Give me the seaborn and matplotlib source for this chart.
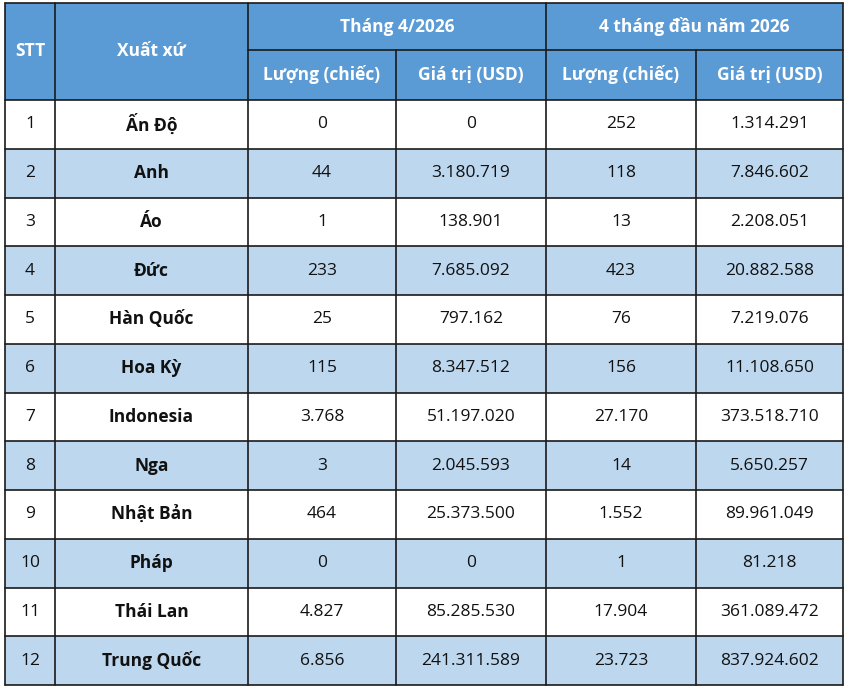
import matplotlib
matplotlib.use("Agg")
import matplotlib.pyplot as plt
import seaborn as sns
from matplotlib.patches import Rectangle

sns.set_theme(style="white")
plt.rcParams['font.family'] = ['Open Sans', 'DejaVu Sans']

stt = [str(i) for i in range(1, 13)]
countries = ["Ấn Độ", "Anh", "Áo", "Đức", "Hàn Quốc", "Hoa Kỳ", "Indonesia", "Nga",
             "Nhật Bản", "Pháp", "Thái Lan", "Trung Quốc"]
qty_apr = ["0", "44", "1", "233", "25", "115", "3.768", "3", "464", "0", "4.827", "6.856"]
val_apr = ["0", "3.180.719", "138.901", "7.685.092", "797.162", "8.347.512", "51.197.020",
           "2.045.593", "25.373.500", "0", "85.285.530", "241.311.589"]
qty_4m = ["252", "118", "13", "423", "76", "156", "27.170", "14", "1.552", "1", "17.904", "23.723"]
val_4m = ["1.314.291", "7.846.602", "2.208.051", "20.882.588", "7.219.076", "11.108.650",
          "373.518.710", "5.650.257", "89.961.049", "81.218", "361.089.472", "837.924.602"]
group_headers = ["Tháng 4/2026", "4 tháng đầu năm 2026"]
sub_headers = ["Lượng (chiếc)", "Giá trị (USD)", "Lượng (chiếc)", "Giá trị (USD)"]

W, H = 846, 689
fig = plt.figure(figsize=(W/100, H/100), dpi=100)
ax = fig.add_axes([0, 0, 1, 1])
ax.set_xlim(0, W); ax.set_ylim(H, 0); ax.axis('off')

xs = [5, 55, 248, 396, 546, 696, 843]
y0, y1, y2 = 3, 50, 100
ybot = 685
rh = (ybot - y2) / 12
hdr = "#5B9BD5"; alt = "#BDD7EE"; line = "#1a1a1a"
fs = 12.5

ax.add_patch(Rectangle((xs[0], y0), xs[-1]-xs[0], y2-y0, facecolor=hdr, edgecolor='none'))
for i in range(12):
    top = y2 + i*rh
    ax.add_patch(Rectangle((xs[0], top), xs[-1]-xs[0], rh,
                           facecolor=(alt if i % 2 == 1 else "white"), edgecolor='none'))
# header texts
ax.text((xs[0]+xs[1])/2, (y0+y2)/2, "STT", ha='center', va='center', color='white', fontsize=fs, fontweight='bold')
ax.text((xs[1]+xs[2])/2, (y0+y2)/2, "Xuất xứ", ha='center', va='center', color='white', fontsize=fs, fontweight='bold')
ax.text((xs[2]+xs[4])/2, (y0+y1)/2, group_headers[0], ha='center', va='center', color='white', fontsize=fs, fontweight='bold')
ax.text((xs[4]+xs[6])/2, (y0+y1)/2, group_headers[1], ha='center', va='center', color='white', fontsize=fs, fontweight='bold')
for j, h in enumerate(sub_headers):
    ax.text((xs[2+j]+xs[3+j])/2, (y1+y2)/2, h, ha='center', va='center', color='white', fontsize=fs, fontweight='bold')
# data
cols = [stt, countries, qty_apr, val_apr, qty_4m, val_4m]
for i in range(12):
    cy = y2 + (i+0.5)*rh
    for j, col in enumerate(cols):
        ax.text((xs[j]+xs[j+1])/2, cy, col[i], ha='center', va='center', color='#111111',
                fontsize=fs, fontweight=('bold' if j == 1 else 'normal'))
# grid lines
lw = 1.2
ax.plot([xs[0], xs[-1]], [y0, y0], color=line, lw=lw)
ax.plot([xs[2], xs[-1]], [y1, y1], color=line, lw=lw)
for i in range(13):
    y = y2 + i*rh
    ax.plot([xs[0], xs[-1]], [y, y], color=line, lw=lw)
for k, x in enumerate(xs):
    if k in (3, 5):
        ax.plot([x, x], [y1, ybot], color=line, lw=lw)
    else:
        ax.plot([x, x], [y0, ybot], color=line, lw=lw)

fig.savefig("out.png", dpi=100)
